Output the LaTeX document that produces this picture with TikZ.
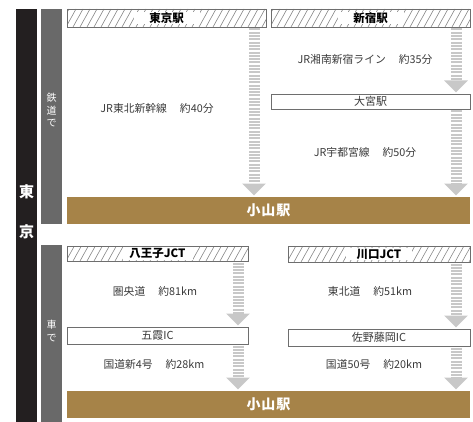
\documentclass[tikz,border=0pt]{standalone}
\usepackage{fontspec}
\setmainfont{Noto Sans CJK JP}
\usetikzlibrary{arrows.meta}
\definecolor{barblack}{HTML}{231F20}
\definecolor{bargray}{HTML}{696969}
\definecolor{gold}{HTML}{A68348}
\definecolor{arrowc}{HTML}{C8C8C8}
\definecolor{boxc}{HTML}{6E6E6E}
\definecolor{hatchc}{HTML}{808080}
\definecolor{txt}{HTML}{3A3A3A}
\begin{document}
\begin{tikzpicture}[x=1pt,y=-1pt,
  rect/.style={inner sep=0pt,outer sep=0pt},
  sidebar/.style={rect,fill=barblack},
  modebar/.style={rect,fill=bargray},
  sidetext/.style={text=white,font=\fontsize{15}{15}\selectfont\bfseries,inner sep=0pt},
  modetext/.style={text=white,font=\fontsize{10}{12.5}\selectfont,align=center,inner sep=0pt},
  stationbox/.style={rect,draw=boxc,line width=0.8pt,fill=white},
  hatchbox/.style={stationbox,path picture={
      \foreach \k in {0,...,32}
        \draw[draw=hatchc,line width=0.55pt]
          ([xshift={-22pt+7pt*\k}]path picture bounding box.south west) -- ++(10pt,18pt);}},
  hatchlabel/.style={fill=white,minimum width=66pt,inner ysep=1pt,text=black,
      font=\fontsize{11.5}{12}\selectfont\bfseries},
  boxlabel/.style={text=txt,font=\fontsize{11}{12}\selectfont,inner sep=0pt},
  goalbar/.style={rect,fill=gold},
  goaltext/.style={text=white,font=\fontsize{14}{14}\selectfont\bfseries,inner sep=0pt},
  routetext/.style={text=txt,font=\fontsize{10.8}{12}\selectfont,inner sep=0pt},
  flow/.style={draw=arrowc,line width=11pt,dash pattern=on 2pt off 1.3pt,
      -{Triangle[width=23pt,length=12pt]},shorten >=1.5pt,shorten <=1.5pt}
]
\useasboundingbox (0,0) rectangle (473,422);

% side bars
\node[sidebar,minimum width=21pt,minimum height=413pt] (tokyobar) at (26.5,215.5) {};
\node[sidetext] (to) at (26.5,192) {東};
\node[sidetext] (kyo) at (26.5,232) {京};
\node[modebar,minimum width=21pt,minimum height=215pt] (railbar) at (51.5,116.5) {};
\node[modetext] (railtext) at (51.5,110) {鉄\\道\\で};
\node[modebar,minimum width=21pt,minimum height=177pt] (carbar) at (51.5,333.5) {};
\node[modetext] (cartext) at (51.5,331) {車\\で};

% railway
\node[hatchbox,minimum width=199pt,minimum height=18pt] (tokyobox) at (166.5,18) {};
\node[hatchlabel] (tokyolab) at (tokyobox.center) {東京駅};
\node[hatchbox,minimum width=199pt,minimum height=18pt] (shinjukubox) at (370.5,18) {};
\node[hatchlabel] (shinjukulab) at (shinjukubox.center) {新宿駅};
\node[stationbox,minimum width=199pt,minimum height=15pt] (omiya) at (370.5,101.5) {};
\node[boxlabel] (omiyalab) at (omiya.center) {大宮駅};
\node[goalbar,minimum width=403pt,minimum height=27pt] (oyama1) at (268.5,210.5) {};
\node[goaltext] (oyama1lab) at (oyama1.center) {小\hspace{1pt}山\hspace{1pt}駅};

\coordinate (ax1) at (254,0);
\coordinate (ax2) at (456,0);
\draw[flow] (tokyobox.south -| ax1) -- (oyama1.north -| ax1);
\draw[flow] (shinjukubox.south -| ax2) -- (omiya.north -| ax2);
\draw[flow] (omiya.south -| ax2) -- (oyama1.north -| ax2);

\node[routetext] (r1) at (157,108) {JR東北新幹線\hspace{1.2em}約40分};
\node[routetext] (r2) at (365,59) {JR湘南新宿ライン\hspace{1.2em}約35分};
\node[routetext] (r3) at (365,152) {JR宇都宮線\hspace{1.2em}約50分};

% car
\node[hatchbox,minimum width=181pt,minimum height=15pt] (hachioji) at (157.5,253.5) {};
\node[hatchlabel,minimum width=70pt] (hachiojilab) at (hachioji.center) {八王子JCT};
\node[hatchbox,minimum width=182pt,minimum height=16pt] (kawaguchi) at (379,254) {};
\node[hatchlabel] (kawaguchilab) at (kawaguchi.center) {川口JCT};
\node[stationbox,minimum width=181pt,minimum height=17pt] (goka) at (157.5,335.5) {};
\node[boxlabel] (gokalab) at (goka.center) {五霞IC};
\node[stationbox,minimum width=182pt,minimum height=17pt] (sano) at (379,337.5) {};
\node[boxlabel] (sanolab) at (sano.center) {佐野藤岡IC};
\node[goalbar,minimum width=403pt,minimum height=27pt] (oyama2) at (268.5,404.5) {};
\node[goaltext] (oyama2lab) at (oyama2.center) {小\hspace{1pt}山\hspace{1pt}駅};

\coordinate (ax3) at (238,0);
\draw[flow] (hachioji.south -| ax3) -- (goka.north -| ax3);
\draw[flow] (goka.south -| ax3) -- (oyama2.north -| ax3);
\draw[flow] (kawaguchi.south -| ax2) -- (sano.north -| ax2);
\draw[flow] (sano.south -| ax2) -- (oyama2.north -| ax2);

\node[routetext] (r4) at (155,291) {圏央道\hspace{1.2em}約81km};
\node[routetext] (r5) at (154,364) {国道新4号\hspace{1.2em}約28km};
\node[routetext] (r6) at (370,291) {東北道\hspace{1.2em}約51km};
\node[routetext] (r7) at (374,364) {国道50号\hspace{1.2em}約20km};
\end{tikzpicture}
\end{document}
